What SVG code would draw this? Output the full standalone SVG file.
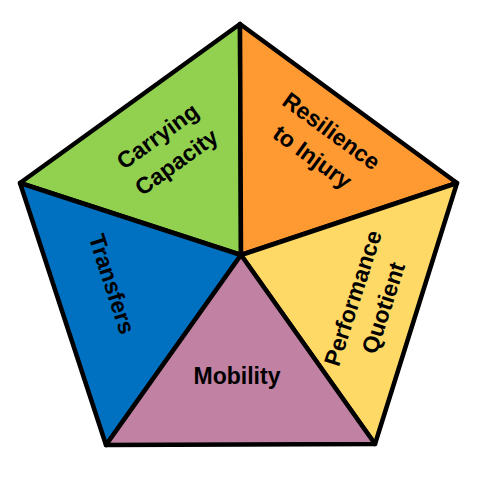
<svg xmlns="http://www.w3.org/2000/svg" width="478" height="479" viewBox="0 0 478 479">
<style>
.seg{stroke:#000;stroke-width:4.5;stroke-linejoin:round}
.lbl{font-family:"Liberation Sans",Arial,sans-serif;font-weight:bold;font-size:23px;fill:#000;text-anchor:middle}
</style>
<rect width="478" height="479" fill="#fff"/>
<g id="carrying">
<polygon class="seg" fill="#92D050" points="20,183 240,24 241,255"/>
<text class="lbl" transform="translate(167,149) rotate(-36)"><tspan x="0" y="-8">Carrying</tspan><tspan x="0" y="24">Capacity</tspan></text>
</g>
<g id="resilience">
<polygon class="seg" fill="#FF9A33" points="240,24 457,183 241,255"/>
<text class="lbl" transform="translate(322,144) rotate(36)"><tspan x="0" y="-8">Resilience</tspan><tspan x="0" y="24">to Injury</tspan></text>
</g>
<g id="performance">
<polygon class="seg" fill="#FFD966" points="457,183 375,444 241,255"/>
<text class="lbl" transform="translate(368,303) rotate(-72)"><tspan x="0" y="-8">Performance</tspan><tspan x="0" y="24">Quotient</tspan></text>
</g>
<g id="transfers">
<polygon class="seg" fill="#0070C0" points="20,183 241,255 106,445"/>
<text class="lbl" transform="translate(112,284) rotate(72)"><tspan x="0" y="8">Transfers</tspan></text>
</g>
<g id="mobility">
<polygon class="seg" fill="#C081A3" points="241,255 375,444 106,445"/>
<text class="lbl" x="237" y="384">Mobility</text>
</g>
<g id="connectors"></g>
</svg>
